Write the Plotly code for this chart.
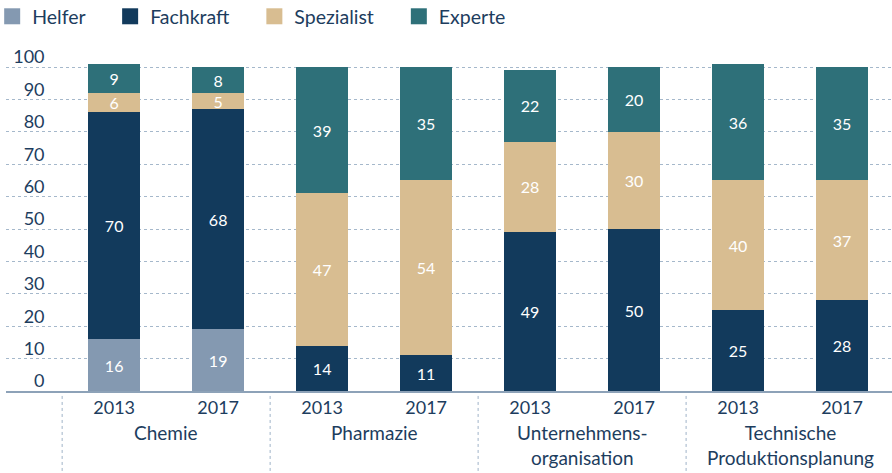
import plotly.graph_objects as go

groups = ["Chemie", "Pharmazie", "Unternehmens-<br>organisation", "Technische<br>Produktionsplanung"]
years = ["2013", "2017"]
series_names = ["Helfer", "Fachkraft", "Spezialist", "Experte"]
colors = ["#8499B1", "#123A5C", "#D8BD91", "#2E7079"]

# values per bar in order: Chemie 2013, Chemie 2017, Pharmazie 2013, ...
helfer = [16, 19, None, None, None, None, None, None]
fachkraft = [70, 68, 14, 11, 49, 50, 25, 28]
spezialist = [6, 5, 47, 54, 28, 30, 40, 37]
experte = [9, 8, 39, 35, 22, 20, 36, 35]
series_values = [helfer, fachkraft, spezialist, experte]

y_ticks = list(range(0, 101, 10))

FONT = "Lato"
TEXT = "#1D3D5E"

n = len(groups) * len(years)
xpos = list(range(n))
year_labels = [y for g in groups for y in years]

fig = go.Figure()
for name, vals, col in zip(series_names, series_values, colors):
    fig.add_trace(go.Bar(
        x=xpos, y=vals, name=name, marker=dict(color=col, line=dict(width=0)),
        width=0.5, text=[("" if v is None else str(v)) for v in vals],
        textposition="inside", insidetextanchor="middle", textangle=0,
        textfont=dict(color="white", size=16, family=FONT),
        constraintext="none", showlegend=False, hoverinfo="skip",
    ))
for name, col in zip(series_names, colors):
    fig.add_trace(go.Scatter(
        x=[None], y=[None], mode="markers", name=name + "\u00a0" * 4,
        marker=dict(symbol="square", size=16, color=col), showlegend=True,
    ))

for i in range(len(groups)):
    b = i * len(years) - 0.5
    fig.add_shape(type="line", xref="x", yref="paper", x0=b, x1=b, y0=-0.015, y1=-0.25,
                  line=dict(color="#9FB3C8", width=1, dash="3px,3px"))
    fig.add_annotation(x=i * len(years) + (len(years) - 1) / 2, y=-0.085, xref="x", yref="paper",
                       text=groups[i], showarrow=False, yanchor="top", xanchor="center",
                       font=dict(size=19, color=TEXT, family=FONT))

fig.update_layout(
    width=892, height=473, barmode="stack", bargap=0.5,
    margin=dict(l=6, r=0, t=60, b=82, autoexpand=False),
    paper_bgcolor="white", plot_bgcolor="white",
    font=dict(family=FONT, color=TEXT, size=18),
    legend=dict(orientation="h", x=-0.0156, y=1.19, yanchor="top", xanchor="left",
                traceorder="normal",
                font=dict(size=19.5, color=TEXT, family=FONT), bgcolor="rgba(0,0,0,0)"),
    xaxis=dict(range=[-1.04, 7.48], tickvals=xpos, ticktext=year_labels, showgrid=False,
               showline=True, linecolor="#8DA2B8", linewidth=1.5, zeroline=False, ticks="",
               automargin=False, tickfont=dict(size=18, color=TEXT, family=FONT)),
    yaxis=dict(range=[0, 102.2], anchor="free", position=0.0435, side="left",
               tickvals=y_ticks, showgrid=True, gridcolor="#A5B8CB", gridwidth=1,
               griddash="3px,3px", showline=False, zeroline=False, ticks="",
               automargin=False,
               ticklabelshift=-10, tickfont=dict(size=18, color=TEXT, family=FONT)),
)

fig.write_html("out.html", config={"displayModeBar": False},
               post_script="document.body.style.margin='0px';")
